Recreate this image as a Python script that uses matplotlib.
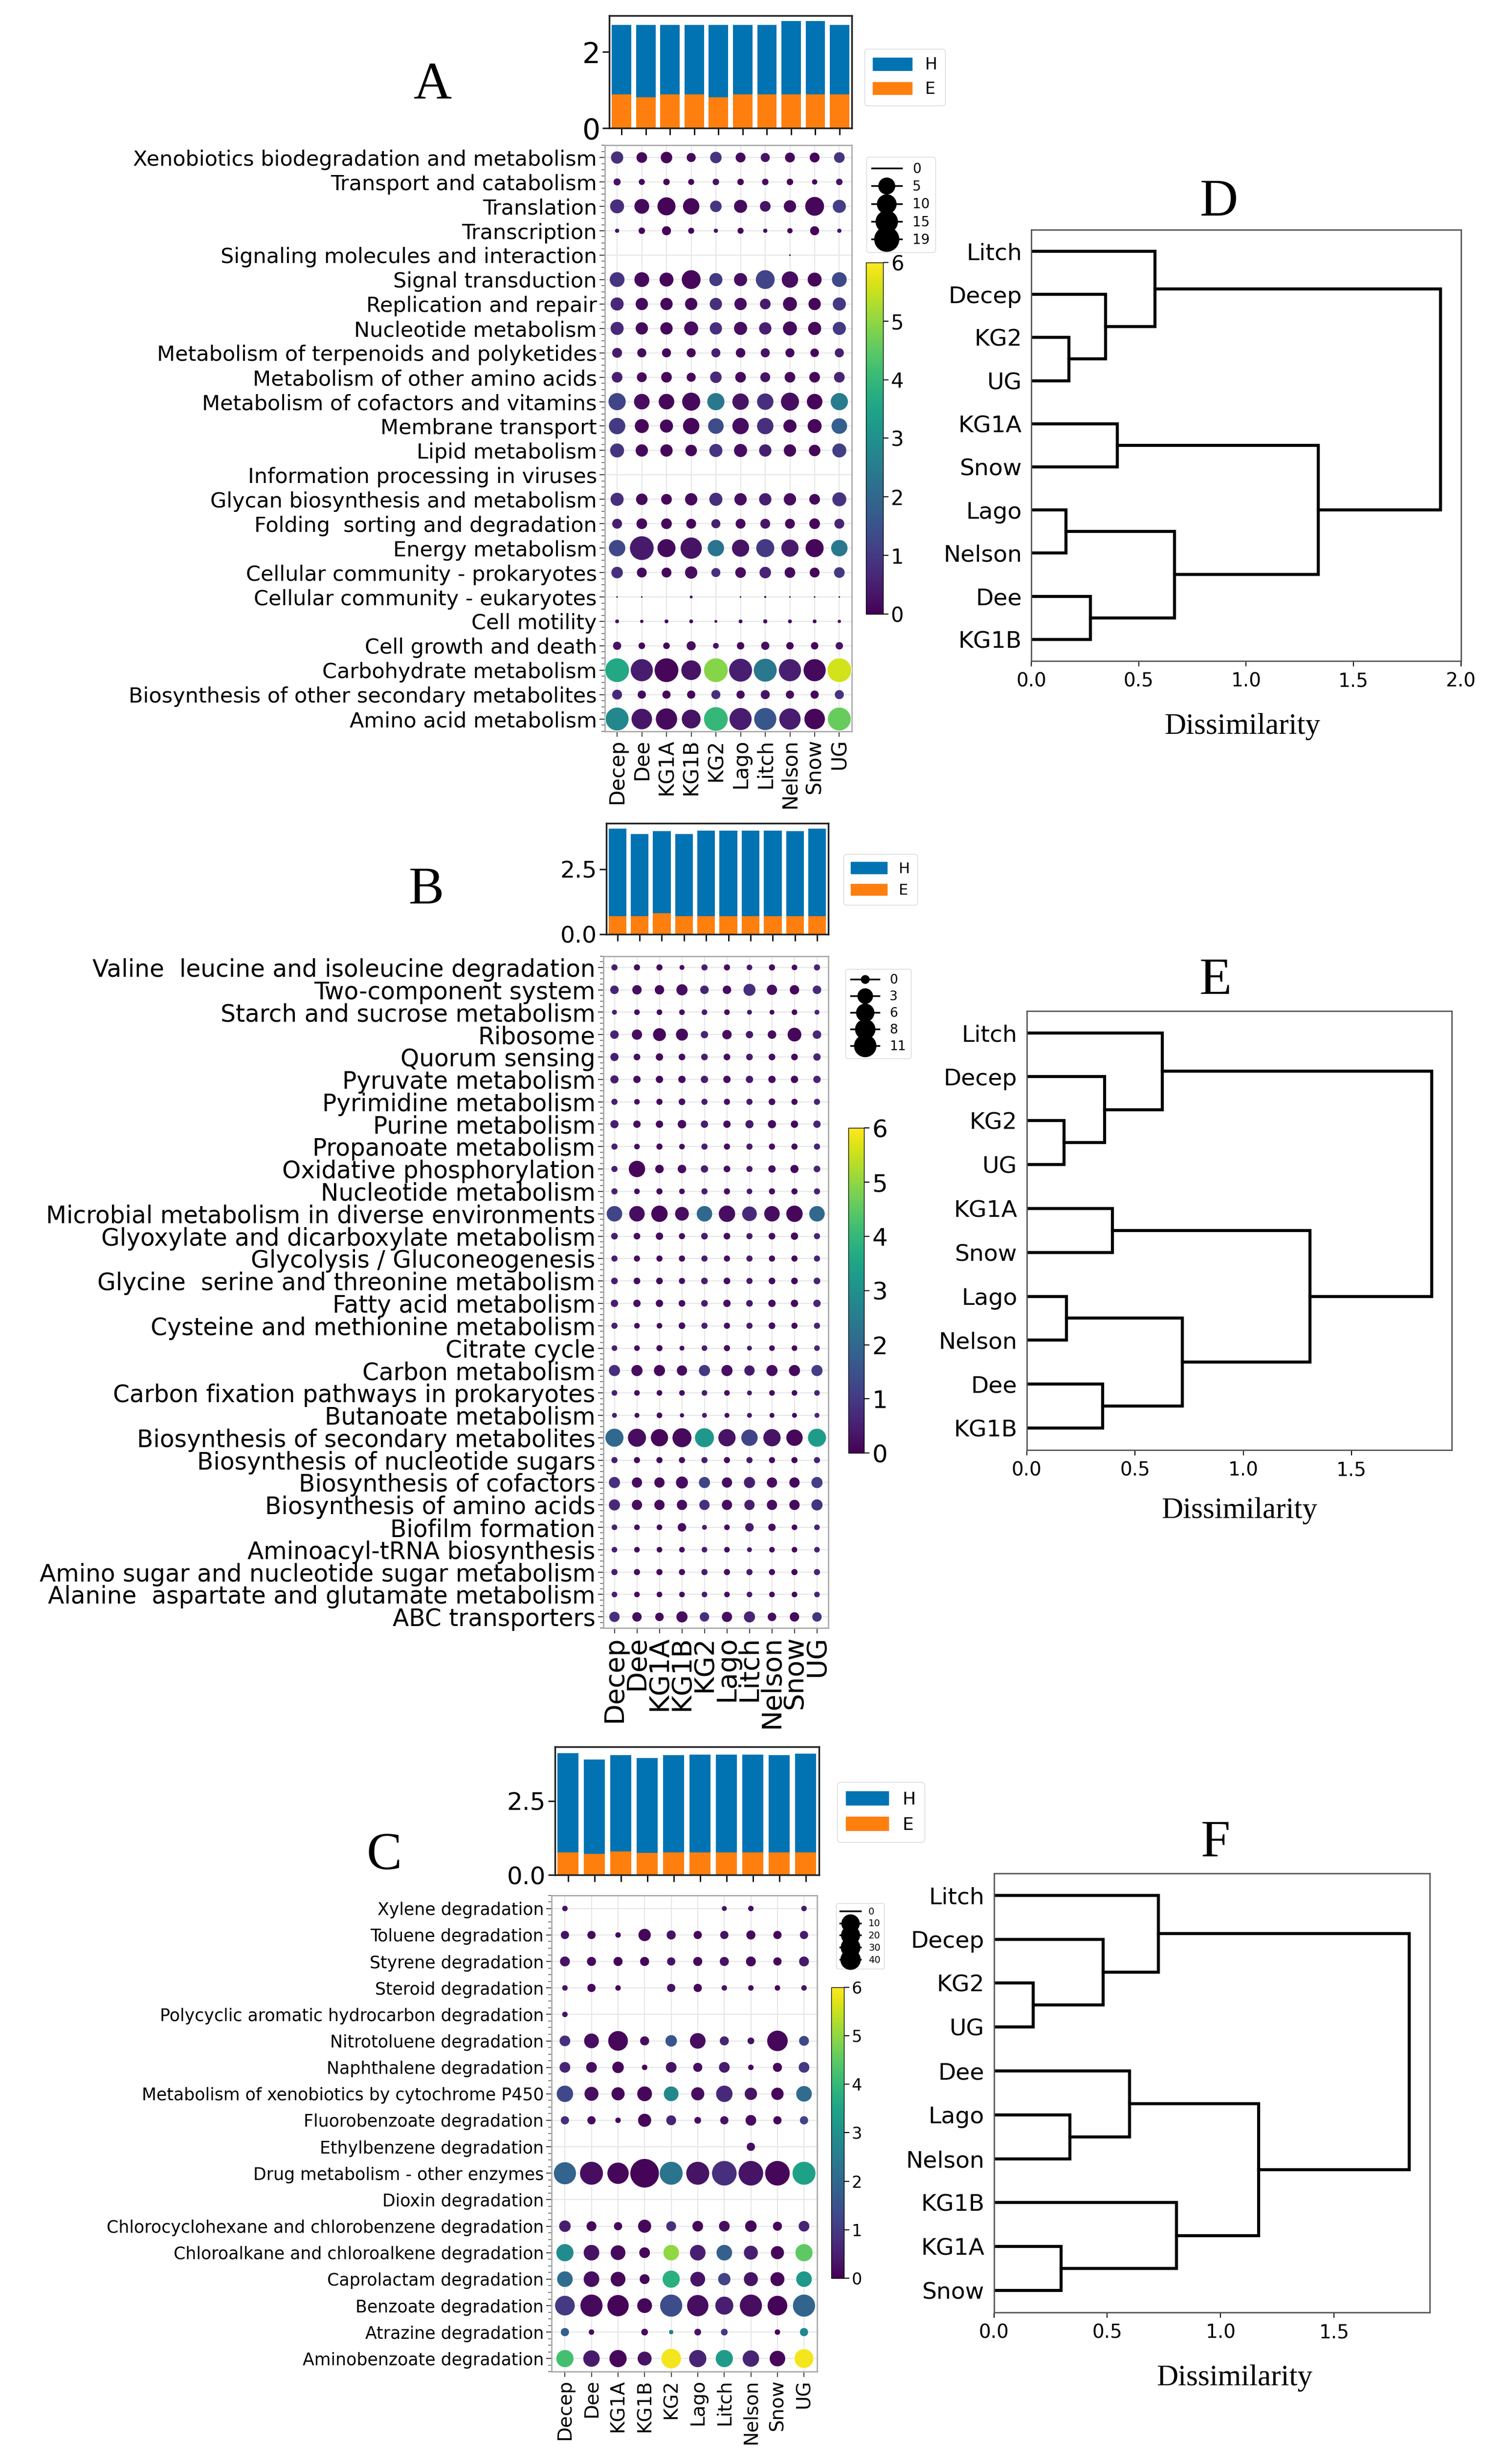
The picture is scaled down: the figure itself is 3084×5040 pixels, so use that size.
import numpy as np
import matplotlib
matplotlib.use('Agg')
import matplotlib.pyplot as plt
from matplotlib.lines import Line2D
from matplotlib.patches import Patch
from matplotlib.ticker import AutoMinorLocator
from matplotlib.cm import ScalarMappable
from matplotlib.colors import Normalize

sites = ['Decep', 'Dee', 'KG1A', 'KG1B', 'KG2', 'Lago', 'Litch', 'Nelson', 'Snow', 'UG']

# ---- panel A (level 2 pathways) ----
a_H = [2.71, 2.71, 2.71, 2.71, 2.71, 2.71, 2.71, 2.81, 2.81, 2.71]
a_E = [0.89, 0.81, 0.89, 0.89, 0.81, 0.89, 0.89, 0.89, 0.89, 0.89]
a_rows = ['Xenobiotics biodegradation and metabolism', 'Transport and catabolism', 'Translation',
          'Transcription', 'Signaling molecules and interaction', 'Signal transduction',
          'Replication and repair', 'Nucleotide metabolism', 'Metabolism of terpenoids and polyketides',
          'Metabolism of other amino acids', 'Metabolism of cofactors and vitamins', 'Membrane transport',
          'Lipid metabolism', 'Information processing in viruses', 'Glycan biosynthesis and metabolism',
          'Folding  sorting and degradation', 'Energy metabolism', 'Cellular community - prokaryotes',
          'Cellular community - eukaryotes', 'Cell motility', 'Cell growth and death',
          'Carbohydrate metabolism', 'Biosynthesis of other secondary metabolites', 'Amino acid metabolism']
a_size = [
    [5.5, 4.2, 4.85, 3.1, 4.85, 3.64, 3.1, 3.64, 3.64, 4.2],
    [2.0, 1.5, 1.7, 1.5, 1.7, 1.7, 1.7, 1.7, 1.2, 1.7],
    [7.0, 7.8, 11.4, 9.5, 4.85, 6.2, 4.2, 5.5, 12.4, 6.2],
    [0.8, 1.7, 3.1, 1.5, 0.8, 1.5, 0.8, 1.2, 3.1, 0.8],
    [0, 0, 0, 0, 0, 0, 0, 0.2, 0, 0],
    [7.8, 7.8, 7.0, 12.4, 6.2, 6.2, 12.4, 9.5, 7.0, 7.8],
    [6.2, 5.5, 5.5, 5.5, 5.5, 5.5, 4.2, 7.0, 5.5, 6.2],
    [6.2, 5.5, 5.5, 7.0, 5.5, 6.2, 5.5, 7.0, 6.2, 6.2],
    [3.64, 3.1, 3.1, 3.1, 3.1, 3.4, 3.1, 3.1, 2.8, 3.1],
    [4.2, 3.64, 4.2, 3.1, 4.85, 4.2, 3.64, 4.2, 4.2, 4.2],
    [10.4, 8.6, 8.6, 11.4, 10.4, 9.5, 9.5, 11.4, 8.6, 10.4],
    [9.5, 7.0, 6.2, 9.5, 8.6, 9.5, 9.5, 6.2, 7.0, 8.6],
    [7.0, 5.5, 5.5, 4.85, 6.2, 6.2, 5.5, 5.5, 4.85, 7.0],
    [0, 0, 0, 0, 0, 0, 0, 0, 0, 0],
    [6.2, 4.85, 4.2, 5.5, 6.2, 5.5, 5.5, 5.5, 4.2, 7.0],
    [3.64, 4.2, 4.2, 3.64, 3.1, 3.64, 3.64, 3.64, 4.2, 3.64],
    [9.5, 19.4, 11.4, 15.7, 9.5, 10.4, 11.4, 10.4, 11.4, 9.5],
    [4.85, 3.64, 3.64, 5.5, 3.1, 4.2, 4.85, 4.2, 3.64, 4.2],
    [0.19, 0.19, 0, 0.42, 0, 0.19, 0.28, 0.19, 0.19, 0.19],
    [0.68, 0.54, 0.68, 0.68, 0.42, 0.68, 0.78, 0.68, 0.68, 0.54],
    [2.6, 1.75, 1.75, 3.1, 1.38, 2.16, 2.6, 2.16, 2.16, 2.16],
    [19.4, 16.9, 19.4, 13.5, 19.4, 18.1, 18.1, 16.9, 16.9, 19.4],
    [3.64, 2.6, 2.6, 2.6, 3.1, 2.6, 3.1, 2.6, 2.6, 3.1],
    [18.1, 14.6, 15.7, 12.4, 19.4, 16.9, 16.9, 15.7, 14.6, 18.1],
]
a_col = [
    [0.8, 0.15, 0.1, 0.15, 0.9, 0.15, 0.3, 0.15, 0.1, 0.9],
    [0.3, 0.1, 0.1, 0.1, 0.3, 0.1, 0.2, 0.1, 0.1, 0.3],
    [0.8, 0.15, 0.05, 0.1, 0.9, 0.15, 0.3, 0.15, 0.1, 1.1],
    [0.3, 0.1, 0.1, 0.1, 0.3, 0.1, 0.2, 0.1, 0.1, 0.3],
    [0, 0, 0, 0, 0, 0, 0, 0.2, 0, 0],
    [0.9, 0.15, 0.1, 0.1, 1.0, 0.2, 1.2, 0.2, 0.1, 1.3],
    [0.7, 0.15, 0.1, 0.1, 0.8, 0.2, 0.4, 0.15, 0.1, 1.0],
    [0.7, 0.15, 0.1, 0.2, 0.8, 0.2, 0.5, 0.15, 0.1, 1.0],
    [0.4, 0.15, 0.1, 0.1, 0.5, 0.15, 0.3, 0.15, 0.1, 0.5],
    [0.5, 0.15, 0.1, 0.1, 0.7, 0.15, 0.3, 0.15, 0.1, 0.6],
    [1.2, 0.2, 0.1, 0.15, 2.4, 0.3, 0.8, 0.2, 0.1, 2.5],
    [1.0, 0.1, 0.1, 0.1, 1.4, 0.2, 0.8, 0.1, 0.1, 1.8],
    [0.9, 0.15, 0.1, 0.1, 0.9, 0.2, 0.5, 0.15, 0.1, 1.1],
    [0, 0, 0, 0, 0, 0, 0, 0, 0, 0],
    [0.8, 0.15, 0.1, 0.15, 0.8, 0.2, 0.5, 0.2, 0.1, 0.9],
    [0.5, 0.15, 0.1, 0.1, 0.5, 0.15, 0.3, 0.15, 0.1, 0.6],
    [1.3, 0.4, 0.15, 0.3, 2.3, 0.3, 1.0, 0.4, 0.1, 2.4],
    [0.8, 0.15, 0.1, 0.2, 0.8, 0.2, 0.6, 0.15, 0.1, 1.0],
    [0.3, 0.1, 0, 0.2, 0, 0.1, 0.2, 0.1, 0.1, 0.2],
    [0.3, 0.1, 0.1, 0.1, 0.2, 0.1, 0.2, 0.1, 0.1, 0.3],
    [0.3, 0.1, 0.1, 0.2, 0.3, 0.1, 0.2, 0.1, 0.1, 0.3],
    [3.6, 0.45, 0.1, 0.3, 4.9, 0.5, 2.4, 0.5, 0.15, 5.6],
    [0.7, 0.15, 0.1, 0.1, 0.8, 0.2, 0.3, 0.2, 0.1, 0.9],
    [2.8, 0.35, 0.15, 0.3, 4.0, 0.45, 1.6, 0.45, 0.1, 4.6],
]
a_leg = [0, 5, 10, 15, 19]

# ---- panel B (level 3 pathways) ----
b_H = [4.05, 3.85, 3.95, 3.85, 3.98, 3.98, 3.98, 3.98, 3.95, 4.05]
b_E = [0.70, 0.70, 0.80, 0.70, 0.70, 0.70, 0.70, 0.70, 0.70, 0.70]
b_rows = ['Valine  leucine and isoleucine degradation', 'Two-component system',
          'Starch and sucrose metabolism', 'Ribosome', 'Quorum sensing', 'Pyruvate metabolism',
          'Pyrimidine metabolism', 'Purine metabolism', 'Propanoate metabolism',
          'Oxidative phosphorylation', 'Nucleotide metabolism',
          'Microbial metabolism in diverse environments', 'Glyoxylate and dicarboxylate metabolism',
          'Glycolysis / Gluconeogenesis', 'Glycine  serine and threonine metabolism',
          'Fatty acid metabolism', 'Cysteine and methionine metabolism', 'Citrate cycle',
          'Carbon metabolism', 'Carbon fixation pathways in prokaryotes', 'Butanoate metabolism',
          'Biosynthesis of secondary metabolites', 'Biosynthesis of nucleotide sugars',
          'Biosynthesis of cofactors', 'Biosynthesis of amino acids', 'Biofilm formation',
          'Aminoacyl-tRNA biosynthesis', 'Amino sugar and nucleotide sugar metabolism',
          'Alanine  aspartate and glutamate metabolism', 'ABC transporters']
b_size = [
    [1.35, 1.35, 1.35, 0.9, 1.35, 1.35, 1.15, 1.35, 1.15, 1.35],
    [2.42, 2.9, 2.9, 3.98, 2.42, 2.42, 4.59, 3.42, 2.9, 2.42],
    [0.9, 1.15, 1.15, 1.15, 1.15, 1.15, 0.9, 0.9, 1.15, 0.9],
    [2.42, 3.42, 5.24, 4.59, 1.85, 2.9, 1.85, 2.42, 5.93, 2.42],
    [2.24, 1.55, 1.85, 1.55, 1.55, 1.55, 1.55, 1.55, 1.55, 1.85],
    [2.24, 1.85, 1.85, 1.85, 1.85, 1.85, 1.85, 1.85, 1.85, 1.85],
    [1.35, 1.15, 1.35, 1.55, 1.35, 1.35, 1.35, 1.55, 1.35, 1.35],
    [2.24, 1.85, 1.85, 2.42, 1.85, 1.85, 2.24, 2.24, 1.85, 1.85],
    [1.35, 1.15, 1.35, 1.15, 1.35, 1.35, 1.35, 1.35, 1.35, 1.35],
    [1.35, 8.27, 2.42, 2.42, 1.85, 1.55, 1.35, 1.85, 2.24, 1.55],
    [1.35, 1.15, 1.35, 1.15, 1.35, 1.35, 1.15, 1.35, 1.35, 1.35],
    [7.45, 7.45, 8.27, 5.93, 7.45, 8.27, 6.67, 7.45, 8.27, 7.45],
    [1.55, 1.55, 1.85, 1.35, 1.55, 1.55, 1.35, 1.55, 1.85, 1.35],
    [1.35, 1.35, 1.35, 1.35, 1.35, 1.35, 1.35, 1.35, 1.35, 1.35],
    [1.55, 1.55, 1.55, 1.35, 1.55, 1.55, 1.35, 1.55, 1.55, 1.55],
    [1.85, 1.85, 1.85, 1.55, 1.55, 1.85, 1.55, 1.85, 1.85, 1.85],
    [1.35, 1.15, 1.15, 1.55, 1.35, 1.35, 1.35, 1.55, 1.35, 1.35],
    [1.15, 1.15, 1.35, 0.9, 1.15, 1.35, 0.9, 1.15, 1.15, 1.15],
    [3.98, 3.98, 3.98, 3.42, 3.98, 3.98, 3.42, 3.98, 3.98, 3.98],
    [1.15, 1.15, 1.15, 1.15, 1.15, 1.15, 0.9, 1.15, 1.15, 1.15],
    [0.9, 0.9, 1.15, 0.7, 0.9, 0.9, 0.9, 0.9, 0.9, 0.9],
    [10.0, 10.0, 9.13, 11.0, 11.0, 9.13, 8.27, 9.13, 8.27, 10.0],
    [1.35, 1.35, 1.35, 1.35, 1.35, 1.35, 1.35, 1.35, 1.35, 1.35],
    [3.98, 3.42, 3.42, 4.59, 3.98, 3.42, 3.98, 3.42, 3.42, 3.98],
    [3.98, 3.42, 3.42, 3.42, 3.42, 3.42, 3.42, 3.42, 3.42, 3.98],
    [1.15, 1.15, 1.15, 2.42, 0.9, 1.15, 2.42, 1.85, 1.15, 1.15],
    [1.15, 1.15, 1.15, 1.15, 1.15, 1.15, 0.9, 1.15, 1.15, 1.15],
    [1.35, 1.35, 1.35, 1.35, 1.35, 1.35, 1.35, 1.35, 1.35, 1.35],
    [1.15, 1.15, 1.15, 1.15, 1.15, 1.15, 1.15, 1.15, 1.15, 1.15],
    [3.42, 2.9, 2.42, 3.98, 2.9, 3.42, 3.98, 2.42, 2.9, 2.9],
]
b_col = [
    [0.5, 0.2, 0.15, 0.2, 0.5, 0.2, 0.4, 0.2, 0.15, 0.6],
    [0.6, 0.2, 0.15, 0.2, 0.6, 0.2, 0.8, 0.2, 0.15, 0.7],
    [0.5, 0.2, 0.15, 0.2, 0.5, 0.2, 0.4, 0.2, 0.15, 0.6],
    [0.6, 0.2, 0.1, 0.15, 0.6, 0.2, 0.4, 0.2, 0.1, 0.7],
    [0.5, 0.2, 0.15, 0.2, 0.5, 0.2, 0.4, 0.2, 0.15, 0.6],
    [0.5, 0.2, 0.15, 0.2, 0.5, 0.2, 0.4, 0.2, 0.15, 0.6],
    [0.5, 0.2, 0.15, 0.2, 0.5, 0.2, 0.4, 0.2, 0.15, 0.6],
    [0.5, 0.2, 0.15, 0.2, 0.5, 0.2, 0.4, 0.2, 0.15, 0.6],
    [0.5, 0.2, 0.15, 0.2, 0.5, 0.2, 0.4, 0.2, 0.15, 0.6],
    [0.5, 0.1, 0.15, 0.2, 0.5, 0.2, 0.4, 0.2, 0.15, 0.6],
    [0.5, 0.2, 0.15, 0.2, 0.5, 0.2, 0.4, 0.2, 0.15, 0.6],
    [1.2, 0.2, 0.1, 0.2, 2.0, 0.2, 0.7, 0.2, 0.1, 2.0],
    [0.5, 0.2, 0.15, 0.2, 0.5, 0.2, 0.4, 0.2, 0.15, 0.6],
    [0.5, 0.2, 0.15, 0.2, 0.5, 0.2, 0.4, 0.2, 0.15, 0.6],
    [0.5, 0.2, 0.15, 0.2, 0.5, 0.2, 0.4, 0.2, 0.15, 0.6],
    [0.5, 0.2, 0.15, 0.2, 0.5, 0.2, 0.4, 0.2, 0.15, 0.6],
    [0.5, 0.2, 0.15, 0.2, 0.5, 0.2, 0.4, 0.2, 0.15, 0.6],
    [0.5, 0.2, 0.15, 0.2, 0.5, 0.2, 0.4, 0.2, 0.15, 0.6],
    [0.8, 0.2, 0.15, 0.2, 1.0, 0.2, 0.4, 0.2, 0.15, 1.1],
    [0.5, 0.2, 0.15, 0.2, 0.5, 0.2, 0.4, 0.2, 0.15, 0.6],
    [0.5, 0.2, 0.15, 0.2, 0.5, 0.2, 0.4, 0.2, 0.15, 0.6],
    [2.0, 0.2, 0.1, 0.15, 3.2, 0.3, 1.2, 0.3, 0.1, 3.3],
    [0.5, 0.2, 0.15, 0.2, 0.5, 0.2, 0.4, 0.2, 0.15, 0.6],
    [0.8, 0.2, 0.15, 0.2, 1.2, 0.2, 0.5, 0.2, 0.15, 1.1],
    [0.7, 0.2, 0.15, 0.2, 0.8, 0.2, 0.5, 0.2, 0.15, 0.9],
    [0.5, 0.2, 0.15, 0.2, 0.5, 0.2, 0.4, 0.2, 0.15, 0.6],
    [0.5, 0.2, 0.15, 0.2, 0.5, 0.2, 0.4, 0.2, 0.15, 0.6],
    [0.5, 0.2, 0.15, 0.2, 0.5, 0.2, 0.4, 0.2, 0.15, 0.6],
    [0.5, 0.2, 0.15, 0.2, 0.5, 0.2, 0.4, 0.2, 0.15, 0.6],
    [0.8, 0.2, 0.15, 0.2, 0.8, 0.2, 0.6, 0.2, 0.15, 0.9],
]
b_leg = [0, 3, 6, 8, 11]

# ---- panel C (xenobiotics) ----
c_H = [4.12, 3.90, 4.04, 3.94, 4.04, 4.07, 4.07, 4.07, 4.04, 4.09]
c_E = [0.76, 0.71, 0.79, 0.74, 0.76, 0.76, 0.76, 0.76, 0.76, 0.76]
c_rows = ['Xylene degradation', 'Toluene degradation', 'Styrene degradation', 'Steroid degradation',
          'Polycyclic aromatic hydrocarbon degradation', 'Nitrotoluene degradation',
          'Naphthalene degradation', 'Metabolism of xenobiotics by cytochrome P450',
          'Fluorobenzoate degradation', 'Ethylbenzene degradation', 'Drug metabolism - other enzymes',
          'Dioxin degradation', 'Chlorocyclohexane and chlorobenzene degradation',
          'Chloroalkane and chloroalkene degradation', 'Caprolactam degradation',
          'Benzoate degradation', 'Atrazine degradation', 'Aminobenzoate degradation']
c_size = [
    [1.8, 0, 0, 0, 0, 0, 1.5, 1.8, 0, 1.8],
    [3.74, 3.74, 1.8, 7.9, 4.45, 3.74, 3.74, 4.45, 3.74, 3.74],
    [5.2, 4.45, 4.45, 4.45, 3.74, 4.45, 4.45, 5.2, 3.74, 5.2],
    [1.8, 3.74, 1.8, 0, 3.74, 3.74, 1.8, 1.8, 1.8, 1.8],
    [1.8, 0, 0, 0, 0, 0, 0, 0, 0, 0],
    [6.05, 11.1, 19.3, 4.45, 6.95, 12.35, 4.45, 2.6, 20.9, 5.2],
    [6.05, 6.05, 6.95, 1.8, 6.05, 4.45, 6.05, 1.8, 4.45, 6.05],
    [13.6, 10.0, 8.9, 11.1, 11.1, 8.9, 13.6, 7.9, 7.9, 12.35],
    [3.74, 3.74, 1.8, 8.9, 5.2, 2.6, 3.74, 6.05, 3.74, 3.74],
    [0, 0, 0, 0, 0, 0, 0, 3.74, 0, 0],
    [24.2, 26.0, 22.5, 40.0, 26.0, 26.0, 29.7, 29.7, 29.7, 26.0],
    [0, 0, 0, 0, 0, 0, 0, 0, 0, 0],
    [6.95, 5.2, 3.74, 8.9, 5.2, 6.05, 6.05, 6.95, 4.45, 6.05],
    [14.9, 12.35, 11.1, 6.05, 12.35, 12.35, 12.35, 10.0, 8.9, 14.9],
    [12.35, 12.35, 11.1, 5.2, 14.9, 11.1, 7.9, 10.0, 10.0, 12.35],
    [19.3, 24.2, 22.5, 11.1, 24.2, 22.5, 16.3, 24.2, 19.3, 24.2],
    [3.74, 1.8, 0, 2.6, 1.2, 2.6, 2.6, 0, 1.8, 3.74],
    [14.9, 13.6, 14.9, 10.0, 19.3, 14.9, 14.9, 13.6, 12.35, 17.8],
]
c_col = [
    [0.3, 0, 0, 0, 0, 0, 0.3, 0.2, 0, 0.4],
    [0.3, 0.15, 0.1, 0.1, 0.3, 0.15, 0.3, 0.15, 0.1, 0.4],
    [0.3, 0.15, 0.1, 0.1, 0.3, 0.15, 0.3, 0.15, 0.1, 0.4],
    [0.3, 0.15, 0.1, 0, 0.3, 0.15, 0.3, 0.15, 0.1, 0.3],
    [0.3, 0, 0, 0, 0, 0, 0, 0, 0, 0],
    [0.8, 0.2, 0.1, 0.2, 1.6, 0.2, 0.6, 0.3, 0.1, 1.3],
    [0.6, 0.2, 0.1, 0.1, 0.3, 0.2, 0.4, 0.1, 0.1, 1.0],
    [1.3, 0.2, 0.1, 0.1, 2.8, 0.2, 0.7, 0.3, 0.1, 2.1],
    [0.8, 0.2, 0.1, 0.1, 0.6, 0.2, 0.3, 0.2, 0.1, 1.2],
    [0, 0, 0, 0, 0, 0, 0, 0.2, 0, 0],
    [1.9, 0.2, 0.1, 0.05, 2.3, 0.3, 0.8, 0.3, 0.1, 3.4],
    [0, 0, 0, 0, 0, 0, 0, 0, 0, 0],
    [0.5, 0.1, 0.1, 0.1, 0.8, 0.1, 0.2, 0.1, 0.1, 0.6],
    [2.9, 0.3, 0.15, 0.1, 5.0, 0.5, 1.8, 0.5, 0.1, 4.5],
    [2.1, 0.2, 0.1, 0.1, 3.8, 0.3, 1.2, 0.3, 0.1, 3.2],
    [1.0, 0.15, 0.05, 0.1, 1.4, 0.2, 0.5, 0.2, 0.05, 1.9],
    [1.8, 0.2, 0, 0.2, 2.5, 0.3, 1.0, 0, 0.1, 2.8],
    [4.2, 0.4, 0.1, 0.3, 5.9, 0.6, 3.3, 0.6, 0.1, 5.9],
]
c_leg = [0, 10, 20, 30, 40]

# ---- dendrograms: (left, right, height) ----
d_tree = (('Litch', ('Decep', ('KG2', 'UG', 0.175), 0.346), 0.575),
          (('KG1A', 'Snow', 0.40), (('Lago', 'Nelson', 0.162), ('Dee', 'KG1B', 0.276), 0.667), 1.337),
          1.906)
e_tree = (('Litch', ('Decep', ('KG2', 'UG', 0.172), 0.359), 0.626),
          (('KG1A', 'Snow', 0.396), (('Lago', 'Nelson', 0.184), ('Dee', 'KG1B', 0.351), 0.718), 1.308),
          1.869)
f_tree = (('Litch', ('Decep', ('KG2', 'UG', 0.173), 0.481), 0.726),
          (('Dee', ('Lago', 'Nelson', 0.335), 0.598), ('KG1B', ('KG1A', 'Snow', 0.297), 0.806), 1.167),
          1.831)

W, H = 965.0, 1577.0
def box(x0, y0, x1, y1):
    return [x0 / W, 1 - y1 / H, (x1 - x0) / W, (y1 - y0) / H]
def pt(x, y):
    return (x / W, 1 - y / H)

blue, orange = '#0173b2', '#ff7f0e'
serif = 'Liberation Serif'

fig = plt.figure(figsize=(30.84, 50.4), dpi=100)


def bar_panel(rect, H_, E_, yticks, fs, leg_xy, leg_fs):
    ax = fig.add_axes(rect)
    x = np.arange(len(sites))
    ax.bar(x, H_, width=0.8, color=blue, label='H')
    ax.bar(x, E_, width=0.8, color=orange, label='E')
    ax.set_xlim(-0.5, len(sites) - 0.5)
    ax.set_xticks(x)
    ax.set_xticklabels([])
    ax.set_yticks(yticks)
    ax.tick_params(labelsize=fs, length=10, width=2)
    for s in ax.spines.values():
        s.set_linewidth(2.5)
        s.set_color('#222222')
    fig.legend(handles=[Patch(color=blue, label='H'), Patch(color=orange, label='E')],
               loc='upper left', bbox_to_anchor=pt(*leg_xy), fontsize=leg_fs,
               handlelength=2.4, handleheight=0.8, borderpad=0.5, labelspacing=0.5)
    return ax


def dot_panel(rect, rows, size, col, k, fs, xfs, leg_vals, leg_ms, leg_xy, leg_fs, cb_rect, cb_fs):
    ax = fig.add_axes(rect)
    n = len(rows)
    xs, ys, ss, cs = [], [], [], []
    for i in range(n):
        for j in range(len(sites)):
            xs.append(j)
            ys.append(n - 1 - i)
            ss.append(size[i][j] * k)
            cs.append(col[i][j])
    ax.scatter(xs, ys, s=ss, c=cs, cmap='viridis', vmin=0, vmax=6, marker='o',
               edgecolors='white', linewidths=1.0, zorder=3)
    ax.set_xlim(-0.5, len(sites) - 0.5)
    ax.set_ylim(-0.5, n - 0.5)
    ax.set_xticks(range(len(sites)))
    ax.set_xticklabels(sites, rotation=90, fontsize=xfs)
    ax.set_yticks(range(n))
    ax.set_yticklabels(rows[::-1], fontsize=fs)
    ax.yaxis.set_minor_locator(AutoMinorLocator(4))
    ax.grid(True, color='#e6e6e6', lw=1.5, zorder=0)
    ax.set_axisbelow(True)
    ax.tick_params(length=8, width=1.5, color='#444444')
    ax.tick_params(which='minor', length=5, width=1.2, color='#666666')
    for s in ax.spines.values():
        s.set_color('#aaaaaa')
        s.set_linewidth(2)
    handles = [Line2D([], [], color='k', lw=2.5, marker='o', markersize=m, label=str(v))
               for v, m in zip(leg_vals, leg_ms)]
    fig.legend(handles=handles, loc='upper left', bbox_to_anchor=pt(*leg_xy), fontsize=leg_fs,
               handlelength=2.2, labelspacing=0.3, borderpad=0.4, frameon=True)
    cax = fig.add_axes(cb_rect)
    cb = fig.colorbar(ScalarMappable(Normalize(0, 6), 'viridis'), cax=cax, ticks=range(7))
    cb.ax.tick_params(labelsize=cb_fs, length=8, width=1.5)
    cb.outline.set_linewidth(1)
    return ax


def draw_tree(ax, node, ypos):
    if isinstance(node, str):
        return ypos[node], 0.0
    left, right, h = node
    yl, hl = draw_tree(ax, left, ypos)
    yr, hr = draw_tree(ax, right, ypos)
    ax.plot([hl, h, h, hr], [yl, yl, yr, yr], color='k', lw=4.5, solid_joinstyle='miter')
    return (yl + yr) / 2, h


def leaves(node):
    if isinstance(node, str):
        return [node]
    return leaves(node[0]) + leaves(node[1])


def dendro_panel(rect, tree, xticks, letter, letter_xy, lab_xy):
    ax = fig.add_axes(rect)
    order = leaves(tree)
    n = len(order)
    ypos = {name: n - 1 - i for i, name in enumerate(order)}
    draw_tree(ax, tree, ypos)
    ax.set_ylim(-0.5, n - 0.5)
    ax.set_xlim(0, tree[2] * 1.05)
    ax.set_yticks([ypos[s] for s in order])
    ax.set_yticklabels(order, fontsize=34)
    ax.tick_params(axis='y', length=0, pad=14)
    ax.set_xticks(xticks)
    ax.set_xticklabels(['%.1f' % t for t in xticks], fontsize=28)
    ax.tick_params(axis='x', length=8, width=1.5, pad=8)
    for s in ax.spines.values():
        s.set_color('#555555')
        s.set_linewidth(2)
    fig.text(*letter_xy, letter, family=serif, fontsize=78, ha='center', va='center')
    fig.text(*lab_xy, 'Dissimilarity', family=serif, fontsize=44, ha='center', va='center')


# Panel A
bar_panel(box(390, 10, 545, 82), a_H, a_E, [0, 2], 42, (548, 26), 24)
dot_panel(box(387, 93, 545, 468), a_rows, a_size, a_col, 66.8, 31, 30,
          a_leg, [0, 24, 28, 32, 36], (550, 96), 20, box(554, 168, 565, 393), 30)
fig.text(*pt(277, 55), 'A', family=serif, fontsize=78, ha='center', va='center')

# Panel B
bar_panel(box(388, 527, 530, 598), b_H, b_E, [0.0, 2.5], 34, (535, 542), 22)
dot_panel(box(386, 612, 530, 1042), b_rows, b_size, b_col, 76.5, 35, 40,
          b_leg, [12, 22, 26, 29, 32], (537, 616), 19, box(543, 722, 553, 930), 36)
fig.text(*pt(273, 570), 'B', family=serif, fontsize=78, ha='center', va='center')

# Panel C
bar_panel(box(355, 1118, 524, 1200), c_H, c_E, [0.0, 2.5], 36, (530, 1135), 26)
dot_panel(box(353, 1213, 523, 1518), c_rows, c_size, c_col, 46.7, 25, 28,
          c_leg, [0, 26, 27, 28, 29], (532, 1215), 14, box(532, 1272, 540, 1458), 24)
fig.text(*pt(246, 1188), 'C', family=serif, fontsize=78, ha='center', va='center')

# Dendrograms
dendro_panel(box(660, 147, 935, 423), d_tree, [0.0, 0.5, 1.0, 1.5, 2.0], 'D', pt(780, 130), pt(795, 465))
dendro_panel(box(657, 647, 929, 928), e_tree, [0.0, 0.5, 1.0, 1.5], 'E', pt(778, 628), pt(793, 967))
dendro_panel(box(636, 1199, 915, 1480), f_tree, [0.0, 0.5, 1.0, 1.5], 'F', pt(778, 1180), pt(790, 1522))

fig.savefig('out.png', dpi=100)
